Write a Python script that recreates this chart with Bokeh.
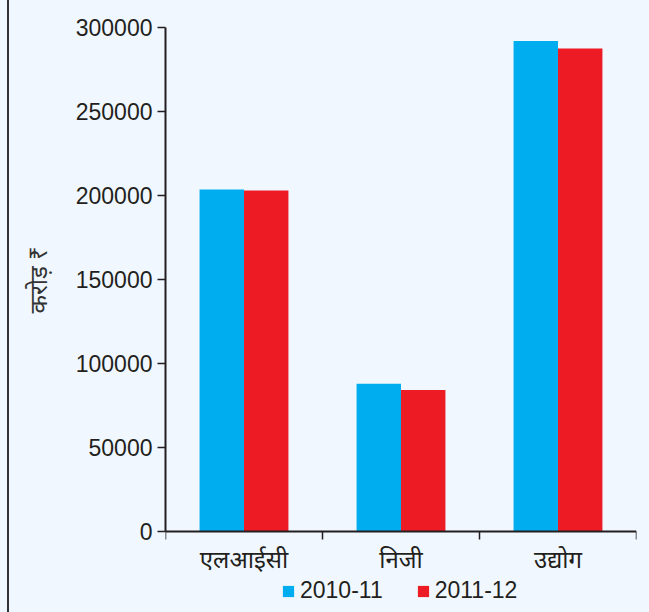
from bokeh.plotting import figure
from bokeh.models import ColumnDataSource, Range1d, FixedTicker, Legend, LegendItem, NumeralTickFormatter, Title
from bokeh.transform import dodge
from bokeh.embed import file_html
from bokeh.resources import INLINE

categories = ["एलआईसी", "निजी", "उद्योग"]
series_names = ["2010-11", "2011-12"]
values_2010_11 = [203500, 88000, 292000]
values_2011_12 = [203000, 84300, 287500]
y_ticks = [0, 50000, 100000, 150000, 200000, 250000, 300000]
y_label = "करोड़ ₹"
colors = ["#00AEEF", "#ED1C24"]

BG = "#F0F7FE"
INK = "#231F20"

# layout: value axis spans 504 px for 0..300000, extra room of 81 px below the baseline
Y_MAX = 300000
Y_MIN = -Y_MAX * 81 / 504

x_centers = [i + 0.5 for i in range(len(categories))]
src = ColumnDataSource(dict(x=x_centers, a=values_2010_11, b=values_2011_12))

p = figure(width=649, height=612,
           x_range=Range1d(0, len(categories)), y_range=Range1d(Y_MIN, Y_MAX),
           output_backend="svg", toolbar_location=None,
           min_border_left=165, min_border_right=13, min_border_top=27, min_border_bottom=0)
p.styles = {"background": "linear-gradient(to right, %s 7px, #333333 7px, #333333 9px, %s 9px)" % (BG, BG)}
p.background_fill_color = BG
p.border_fill_alpha = 0
p.outline_line_color = None
p.xgrid.visible = False
p.ygrid.visible = False

bw = 0.283
r1 = p.vbar(x=dodge("x", -bw / 2, range=p.x_range), top="a", width=bw, source=src,
            fill_color=colors[0], line_color=None)
r2 = p.vbar(x=dodge("x", bw / 2, range=p.x_range), top="b", width=bw, source=src,
            fill_color=colors[1], line_color=None)

# x axis (drawn at value 0)
xa = p.xaxis[0]
xa.fixed_location = 0
xa.ticker = FixedTicker(ticks=x_centers, minor_ticks=list(range(len(categories) + 1)))
xa.major_label_overrides = {x: c for x, c in zip(x_centers, categories)}
xa.major_tick_line_color = None
xa.minor_tick_out = 8
xa.minor_tick_in = 0
xa.minor_tick_line_width = 1.5
xa.minor_tick_line_color = INK
xa.axis_line_width = 2
xa.axis_line_color = INK
xa.major_label_text_font_size = "24px"
xa.major_label_text_font = "Noto Sans"
xa.major_label_text_color = INK
xa.major_label_standoff = 2

# y axis
ya = p.yaxis[0]
ya.bounds = (0, Y_MAX)
ya.ticker = FixedTicker(ticks=y_ticks)
ya.formatter = NumeralTickFormatter(format="0")
ya.major_tick_out = 8
ya.major_tick_in = 0
ya.minor_tick_line_color = None
ya.major_tick_line_width = 1.5
ya.major_tick_line_color = INK
ya.axis_line_width = 2
ya.axis_line_color = INK
ya.major_label_text_font_size = "23px"
ya.major_label_text_font = "Liberation Sans"
ya.major_label_text_color = INK
ya.major_label_standoff = 5

# y axis title, placed beside the 0..300000 span
ytitle = Title(text=y_label, align="left", offset=299, standoff=37,
               text_font_size="24px", text_font_style="normal", text_font="Noto Sans",
               text_color="#333333")
p.add_layout(ytitle, "left")

legend = Legend(items=[LegendItem(label=series_names[0], renderers=[r1]),
                       LegendItem(label=series_names[1], renderers=[r2])],
                orientation="horizontal", location=(116, 8),
                glyph_width=14, glyph_height=14, label_standoff=5, spacing=33,
                padding=0, margin=0, border_line_color=None, background_fill_alpha=0,
                label_text_font_size="23px", label_text_font="Liberation Sans",
                label_text_color=INK)
p.add_layout(legend, "center")

open("out.html", "w").write(file_html(p, INLINE))
